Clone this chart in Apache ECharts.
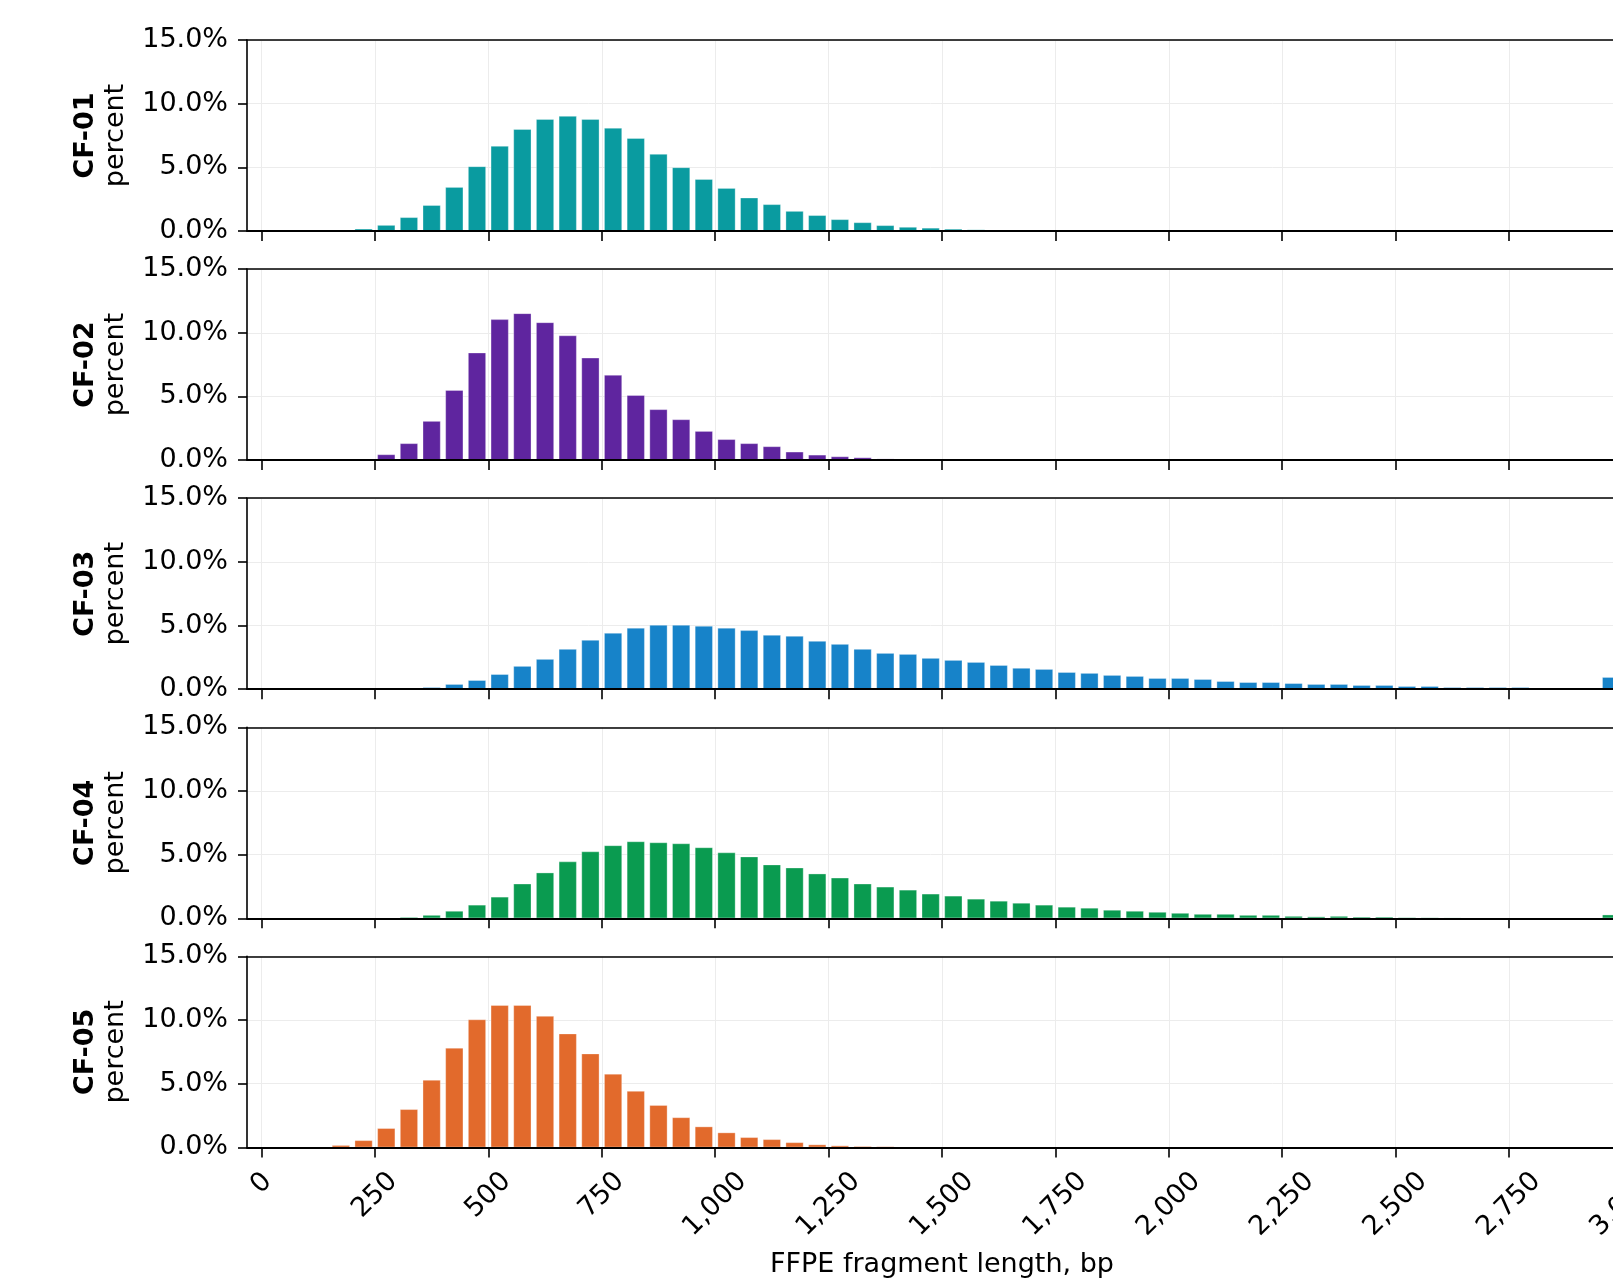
<!DOCTYPE html>
<html>
<head>
<meta charset="utf-8">
<script src="https://cdn.jsdelivr.net/npm/echarts@6/dist/echarts.min.js"></script>
<style>
html,body{margin:0;padding:0;background:#fff;}
#chart{width:1613px;height:1280px;}
</style>
</head>
<body>
<div id="chart"></div>
<script>
// Bin centers (bp), 50 bp bins
const binCenters = [25,75,125,175,225,275,325,375,425,475,525,575,625,675,725,775,825,875,925,975,
  1025,1075,1125,1175,1225,1275,1325,1375,1425,1475,1525,1575,1625,1675,1725,1775,1825,1875,1925,1975,
  2025,2075,2125,2175,2225,2275,2325,2375,2425,2475,2525,2575,2625,2675,2725,2775,2825,2875,2925,2975];

const sampleNames = ['CF-01','CF-02','CF-03','CF-04','CF-05'];
const sampleColors = ['#0a9ba0','#5f259f','#1783c9','#0a9b50','#e26a2c'];

const cf01 = [0,0,0,0,0.18,0.47,1.08,2.03,3.45,5.08,6.68,8.0,8.79,9.03,8.79,8.1,7.29,6.05,5.0,4.08,
  3.37,2.62,2.1,1.57,1.24,0.92,0.68,0.45,0.32,0.25,0.17,0.12,0.09,0.06,0,0,0,0,0,0,
  0,0,0,0,0,0,0,0,0,0,0,0,0,0,0,0,0,0,0,0];
const cf02 = [0,0,0,0,0.08,0.45,1.32,3.07,5.5,8.44,11.06,11.53,10.82,9.79,8.04,6.69,5.1,3.99,3.2,2.28,
  1.64,1.32,1.08,0.66,0.42,0.29,0.21,0.12,0.08,0,0,0,0,0,0,0,0,0,0,0,
  0,0,0,0,0,0,0,0,0,0,0,0,0,0,0,0,0,0,0,0];
const cf03 = [0,0,0,0,0,0,0.1,0.16,0.4,0.71,1.18,1.82,2.37,3.16,3.87,4.42,4.82,5.05,5.05,4.97,
  4.82,4.63,4.26,4.18,3.79,3.55,3.16,2.84,2.76,2.45,2.29,2.13,1.89,1.67,1.58,1.34,1.27,1.11,1.03,0.87,
  0.87,0.79,0.63,0.55,0.55,0.47,0.4,0.4,0.32,0.32,0.24,0.24,0.16,0.16,0.16,0.16,0.1,0.1,0.1,0.95];
const cf04 = [0,0,0,0,0,0,0.1,0.26,0.58,1.06,1.69,2.72,3.59,4.46,5.25,5.73,6.04,5.96,5.88,5.57,
  5.17,4.85,4.22,3.98,3.51,3.19,2.72,2.48,2.24,1.93,1.77,1.53,1.37,1.21,1.06,0.9,0.82,0.66,0.58,0.5,
  0.42,0.34,0.34,0.26,0.26,0.18,0.14,0.18,0.12,0.12,0.08,0.07,0.06,0.05,0.05,0.04,0.04,0.03,0.03,0.29];
const cf05 = [0,0,0,0.18,0.56,1.51,3.0,5.3,7.82,10.05,11.17,11.17,10.32,8.94,7.37,5.78,4.43,3.32,2.36,1.64,
  1.17,0.8,0.64,0.4,0.23,0.15,0.1,0.08,0,0,0,0,0,0,0,0,0,0,0,0,
  0,0,0,0,0,0,0,0,0,0,0,0,0,0,0,0,0,0,0,0];
const sampleValues = [cf01, cf02, cf03, cf04, cf05];

const xTickValues = [0,250,500,750,1000,1250,1500,1750,2000,2250,2500,2750,3000];
const xTitle = 'FFPE fragment length, bp';
const yTitle = 'percent';

const FONT = 'DejaVu Sans';
const FS = 27;
const X_MIN = -32, X_MAX = 3032;

const fmtX = v => Number(v).toLocaleString('en-US');

const grids = [], xAxes = [], yAxes = [], series = [];
const baseX = (i) => ({
  type: 'value', gridIndex: i, min: X_MIN, max: X_MAX, interval: 250, offset: 0
});

for (let i = 0; i < 5; i++) {
  grids.push({
    left: 247, right: -24, top: 40 + i * 229.1, height: 191,
    outerBoundsMode: 'none', containLabel: false, show: false
  });
  const isBottom = i === 4;
  // main bottom axis (spine + ticks), drawn above the bars
  const mainIndex = xAxes.length;
  xAxes.push(Object.assign(baseX(i), {
    position: 'bottom', z: 5,
    axisLine: { show: true, onZero: false, lineStyle: { color: '#000', width: 1.8 } },
    axisTick: { show: true, inside: false, length: 10, customValues: xTickValues, lineStyle: { color: '#000', width: 1.6 } },
    axisLabel: { show: false },
    splitLine: { show: false },
    name: isBottom ? xTitle : '',
    nameLocation: 'middle', nameGap: 104,
    nameTextStyle: { fontFamily: FONT, fontSize: FS, color: '#000' }
  }));
  // vertical grid lines, drawn below the bars
  xAxes.push(Object.assign(baseX(i), {
    position: 'bottom', z: 0,
    axisLine: { show: false, onZero: false },
    axisTick: { show: false, customValues: xTickValues },
    axisLabel: { show: false },
    splitLine: { show: true, lineStyle: { color: '#ececec', width: 1 } }
  }));
  // top spine
  xAxes.push(Object.assign(baseX(i), {
    position: 'top', z: 5,
    axisLine: { show: true, onZero: false, lineStyle: { color: '#000', width: 1.6 } },
    axisTick: { show: false }, axisLabel: { show: false }, splitLine: { show: false }
  }));
  yAxes.push({
    type: 'value', gridIndex: i, position: 'left', min: 0, max: 15, interval: 5,
    axisLine: { show: true, onZero: false, lineStyle: { color: '#000', width: 1.6 } },
    axisTick: { show: true, inside: false, length: 9, lineStyle: { color: '#000', width: 1.6 } },
    axisLabel: { show: true, margin: 19, fontFamily: FONT, fontSize: FS, color: '#000',
      formatter: v => v.toFixed(1) + '%' },
    splitLine: { show: true, lineStyle: { color: '#ececec', width: 1 } },
    name: '{b|' + sampleNames[i] + '}\n{r|' + yTitle + '}',
    nameLocation: 'middle', nameRotate: 90, nameGap: 116,
    nameTextStyle: {
      fontFamily: FONT, fontSize: FS, color: '#000',
      rich: {
        b: { fontFamily: FONT, fontSize: FS, fontWeight: 'bold', color: '#000', lineHeight: 30 },
        r: { fontFamily: FONT, fontSize: FS, color: '#000', lineHeight: 30 }
      }
    }
  });
  series.push({
    type: 'bar', xAxisIndex: mainIndex, yAxisIndex: i, barWidth: 18, z: 2,
    itemStyle: { color: sampleColors[i], borderColor: 'rgba(255,255,255,0.45)', borderWidth: 0.7 },
    data: binCenters.map((c, j) => [c, sampleValues[i][j]]).filter(d => d[1] > 0)
  });
}

// Rotated tick labels on the bottom panel, grouped by label length so each is centred like the reference
const labelGroups = [
  { values: xTickValues.filter(v => v < 100), margin: 36 },
  { values: xTickValues.filter(v => v >= 100 && v < 1000), margin: 48 },
  { values: xTickValues.filter(v => v >= 1000), margin: 57 }
];
labelGroups.forEach(g => {
  xAxes.push(Object.assign(baseX(4), {
    position: 'bottom',
    axisLine: { show: false, onZero: false }, axisTick: { show: false }, splitLine: { show: false },
    axisLabel: {
      show: true, customValues: g.values, rotate: 45, align: 'center', verticalAlign: 'middle',
      margin: g.margin, fontFamily: FONT, fontSize: FS, color: '#000', formatter: fmtX,
      showMinLabel: true, showMaxLabel: true, hideOverlap: false
    }
  }));
});

const chart = echarts.init(document.getElementById('chart'), null, { renderer: 'canvas' });
chart.setOption({
  backgroundColor: '#fff',
  animation: false,
  grid: grids,
  xAxis: xAxes,
  yAxis: yAxes,
  series: series
});
</script>
</body>
</html>
